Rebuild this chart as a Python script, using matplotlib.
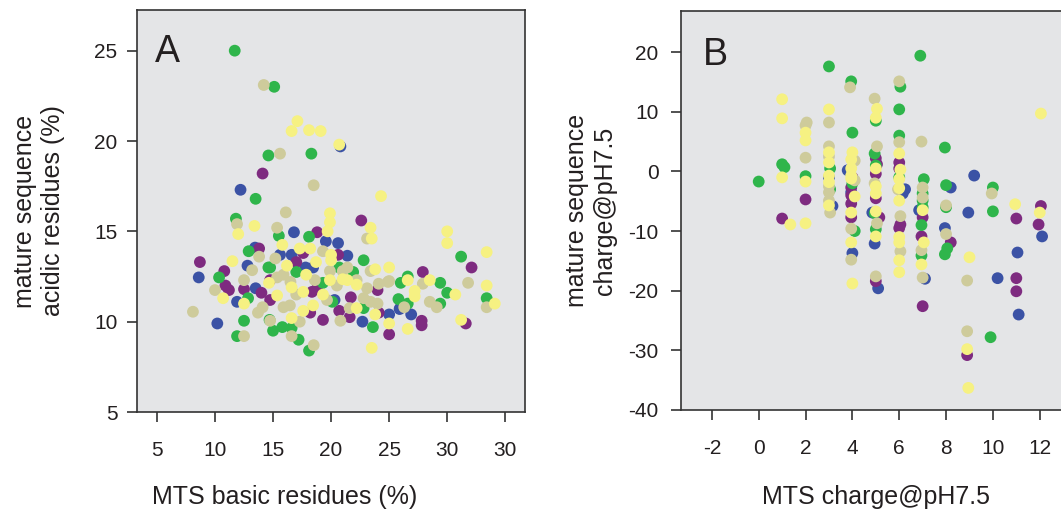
import matplotlib
matplotlib.use("Agg")
import matplotlib.pyplot as plt

plt.rcParams['font.family'] = ['Liberation Sans', 'DejaVu Sans']
plt.rcParams['axes.unicode_minus'] = False

# colour groups (same order in both panels)
group_colors = {
    'blue': '#3b52a5',
    'purple': '#7e2b80',
    'green': '#2fb54b',
    'khaki': '#cecb9b',
    'yellow': '#f6f182',
}

# Panel A: MTS basic residues (%) vs mature sequence acidic residues (%)
a_blue = [(20.8, 19.7), (12.2, 17.3), (26.9, 10.4), (25.9, 10.7), (25.0, 10.4), (22.7, 10.0),
          (10.2, 9.9), (8.6, 12.45), (11.9, 11.1), (12.8, 13.1), (13.45, 14.1), (13.5, 11.85),
          (15.6, 13.7), (16.8, 14.95), (19.55, 14.45), (20.6, 14.35), (16.6, 13.7), (21.4, 13.65),
          (17.8, 13.0), (18.45, 13.0), (20.3, 11.2), (25.95, 10.75)]
a_purple = [(14.1, 18.2), (22.6, 15.6), (32.1, 13.0), (27.9, 12.75), (31.6, 9.9), (27.8, 10.05),
            (27.8, 9.8), (24.0, 11.75), (25.0, 9.3), (21.6, 10.25), (20.7, 10.6), (19.3, 10.1),
            (18.2, 10.5), (8.7, 13.3), (10.8, 12.8), (10.9, 12.0), (11.2, 11.75), (12.5, 11.8),
            (13.8, 14.05), (14.0, 11.6), (18.8, 14.95), (17.6, 13.8), (17.0, 13.3), (20.6, 13.7),
            (21.7, 11.35), (18.35, 11.65), (18.8, 11.85), (14.75, 11.2), (14.75, 12.3), (24.1, 10.5)]
a_green = [(11.7, 25.0), (15.1, 23.0), (14.6, 19.2), (18.3, 19.3), (13.5, 16.8), (11.8, 15.7),
           (26.6, 12.5), (31.2, 13.6), (30.0, 11.6), (29.4, 12.15), (29.4, 11.0), (26.6, 11.0),
           (25.8, 11.25), (26.0, 12.15), (22.8, 13.4), (23.6, 9.7), (18.1, 8.4), (17.2, 9.0),
           (16.6, 9.65), (15.8, 9.7), (15.0, 9.5), (14.7, 10.1), (12.5, 10.05), (11.9, 9.2),
           (10.35, 12.45), (12.85, 11.3), (12.9, 13.9), (14.6, 13.0), (15.5, 14.75), (18.1, 14.7),
           (20.7, 13.0), (17.0, 12.75), (21.9, 12.75), (22.8, 10.75), (20.1, 11.1), (19.3, 12.15),
           (14.75, 13.0), (33.4, 11.3)]
a_khaki = [(14.2, 23.1), (15.6, 19.3), (18.5, 17.55), (16.1, 16.05), (11.9, 15.4), (23.1, 14.6),
           (31.8, 12.15), (27.9, 12.1), (28.5, 11.1), (29.1, 10.8), (26.3, 10.8), (25.0, 12.25),
           (24.1, 12.1), (20.8, 10.05), (18.5, 8.7), (16.6, 9.2), (17.3, 10.0), (12.5, 9.2),
           (8.1, 10.55), (10.0, 11.75), (12.5, 12.3), (13.2, 12.85), (13.8, 13.6), (13.7, 10.5),
           (14.1, 10.8), (15.2, 13.5), (15.35, 15.2), (19.3, 13.9), (19.9, 12.8), (21.0, 12.8),
           (21.4, 13.0), (22.2, 12.3), (23.1, 11.85), (22.8, 11.3), (23.4, 11.1), (24.0, 11.0),
           (21.6, 10.75), (19.65, 11.2), (18.6, 12.3), (16.45, 10.9), (15.9, 10.8), (15.35, 12.45),
           (15.9, 12.6), (23.4, 12.8), (24.9, 12.2), (33.4, 10.8), (14.75, 10.05), (17.0, 11.5),
           (20.5, 12.0), (16.5, 12.2)]
a_yellow = [(17.1, 21.1), (16.6, 20.55), (18.1, 20.6), (19.1, 20.55), (20.7, 19.8), (24.3, 16.95),
            (19.9, 16.0), (12.0, 14.85), (13.4, 15.3), (19.9, 15.5), (19.7, 15.0), (23.4, 15.2),
            (23.5, 14.6), (30.0, 15.0), (30.0, 14.35), (30.7, 11.5), (28.5, 12.3), (27.2, 11.7),
            (27.2, 11.4), (31.2, 10.1), (26.6, 9.6), (26.6, 12.3), (25.0, 13.0), (23.8, 12.9),
            (23.8, 10.4), (25.0, 9.9), (23.5, 8.55), (16.6, 10.2), (10.7, 11.3), (11.5, 13.35),
            (12.5, 11.0), (15.8, 14.25), (17.3, 14.05), (18.2, 14.05), (16.2, 13.1), (20.0, 13.7),
            (20.0, 13.4), (18.7, 13.3), (17.85, 12.6), (21.0, 12.35), (21.4, 12.3), (19.9, 12.3),
            (22.2, 12.05), (22.2, 10.75), (19.3, 11.5), (18.45, 10.9), (17.6, 10.6), (17.6, 11.65),
            (16.6, 11.9), (15.35, 11.45), (14.65, 12.15), (33.4, 13.85), (33.4, 12.0), (34.1, 11.0)]

# Panel B: MTS charge@pH7.5 vs mature sequence charge@pH7.5
b_blue = [(3.15, -5.8), (3.8, 0.2), (4.0, -13.7), (3.95, -3.5), (4.95, -12.1), (5.1, -19.6),
          (4.85, -6.9), (6.15, -3.7), (6.25, -3.0), (7.1, -18.0), (6.85, -6.5), (8.2, -2.7),
          (7.95, -9.5), (9.2, -0.7), (8.95, -6.9), (10.2, -17.9), (11.05, -13.6), (11.1, -24.0),
          (12.1, -10.9), (3.0, -1.0)]
b_purple = [(1.0, -7.9), (2.0, -4.7), (3.95, -2.7), (3.95, -4.0), (3.95, -5.4), (3.95, -7.7),
            (4.0, -1.0), (5.0, 2.2), (5.0, -0.4), (5.0, -4.5), (5.15, -7.7), (5.0, -18.4),
            (5.05, 1.2), (6.0, 1.5), (6.05, -8.9), (6.0, -9.5), (6.0, 0.5), (7.0, -7.7),
            (6.95, -10.9), (7.0, -22.6), (8.2, -11.9), (8.9, -30.8), (11.0, -7.9), (11.0, -17.9),
            (11.0, -20.1), (12.05, -5.8), (11.95, -8.9)]
b_green = [(0.0, -1.7), (1.0, 1.2), (1.1, 0.7), (2.0, -0.8), (3.0, 17.6), (3.05, 0.5),
           (3.05, -3.0), (3.95, 15.1), (4.0, 6.5), (4.1, -10.0), (4.0, -2.0), (5.0, 8.5),
           (4.95, 3.0), (5.0, -9.7), (4.95, -7.0), (5.0, 1.0), (6.05, 14.2), (6.0, 10.4),
           (6.0, 6.0), (6.0, -1.0), (6.9, 19.4), (7.05, -1.3), (7.0, -3.7), (7.0, -4.9),
           (6.95, -9.0), (6.95, -14.1), (7.0, -6.0), (7.95, 4.0), (8.0, -2.3), (8.0, -6.0),
           (8.05, -12.9), (7.95, -13.9), (10.0, -2.7), (10.0, -6.7), (9.9, -27.8)]
b_khaki = [(2.05, 8.2), (2.0, 7.7), (2.0, 2.3), (3.0, 8.2), (3.0, 4.2), (3.0, -3.5),
           (3.0, -4.9), (3.05, -6.9), (3.0, 2.5), (3.0, -2.5), (3.9, 14.1), (4.1, 1.8),
           (3.95, -9.6), (3.95, -14.8), (4.1, -1.5), (4.95, 12.2), (5.05, 4.2), (5.05, -8.7),
           (5.0, -17.6), (4.95, -2.0), (6.0, 15.1), (6.0, 4.9), (6.05, -7.5), (6.05, -13.4),
           (5.95, -3.0), (6.95, 5.0), (7.0, -2.7), (7.0, -4.4), (6.95, -13.2), (7.0, -17.8),
           (8.0, -5.7), (8.0, -10.5), (8.9, -18.3), (8.9, -26.8), (9.95, -3.7)]
b_yellow = [(1.0, 12.1), (1.0, 8.9), (1.0, -1.0), (1.35, -8.9), (2.0, 6.5), (2.0, 5.2),
            (2.0, -1.7), (2.0, -8.7), (3.0, 10.4), (3.0, 3.2), (3.0, 1.5), (3.0, -0.7),
            (3.0, -1.8), (3.0, -5.7), (4.0, 3.2), (3.95, 2.0), (3.95, 0.5), (3.95, -0.7),
            (3.95, -1.2), (4.1, -4.2), (3.95, -6.9), (3.95, -11.9), (4.0, -18.8), (5.05, 10.5),
            (5.0, 9.0), (5.0, 0.5), (5.0, -2.5), (5.0, -3.7), (5.0, -6.7), (5.0, -10.9),
            (6.0, 3.0), (6.05, 0.3), (6.0, -1.3), (6.0, -2.8), (6.0, -4.9), (6.0, -11.0),
            (6.0, -11.9), (6.0, -14.9), (6.0, -16.9), (7.0, -6.5), (7.05, -11.9), (6.95, -15.6),
            (9.0, -14.4), (8.9, -29.8), (8.95, -36.3), (10.95, -5.5), (12.05, 9.7), (12.0, -6.9)]

a_xticks = [5, 10, 15, 20, 25, 30, 35]
a_xticklabels = ['5', '10', '15', '20', '25', '30', '30']
a_yticks = [5, 10, 15, 20, 25]
b_xticks = [-2, 0, 2, 4, 6, 8, 10, 12]
b_yticks = [20, 10, 0, -10, -20, -30, -40]

panel_a = {'blue': a_blue, 'purple': a_purple, 'green': a_green, 'khaki': a_khaki, 'yellow': a_yellow}
panel_b = {'blue': b_blue, 'purple': b_purple, 'green': b_green, 'khaki': b_khaki, 'yellow': b_yellow}

BG = '#e4e5e7'
EDGE = '#333333'
TXT = '#231f20'


def style_axis(ax):
    ax.set_facecolor(BG)
    for sp in ax.spines.values():
        sp.set_color(EDGE)
        sp.set_linewidth(1.2)
    ax.tick_params(axis='both', direction='out', length=7, width=1.2, color=EDGE,
                   labelsize=15, labelcolor=TXT)
    ax.tick_params(axis='x', pad=14)
    ax.tick_params(axis='y', pad=7)


def draw_points(ax, groups):
    for name in ['blue', 'purple', 'green', 'khaki', 'yellow']:
        pts = groups[name]
        xs = [p[0] for p in pts]
        ys = [p[1] for p in pts]
        ax.scatter(xs, ys, s=72, color=group_colors[name], edgecolors='none', zorder=3)


fig = plt.figure(figsize=(10.61, 5.11), dpi=100)
ax1 = fig.add_axes([0.1291, 0.1937, 0.3657, 0.7867])
ax2 = fig.add_axes([0.6418, 0.1977, 0.3779, 0.7808])

# Panel A
style_axis(ax1)
draw_points(ax1, panel_a)
ax1.set_xlim(3.28, 36.7)
ax1.set_ylim(5, 27.25)
ax1.set_xticks(a_xticks)
ax1.set_xticklabels(a_xticklabels)
ax1.set_yticks(a_yticks)
ax1.set_xlabel('MTS basic residues (%)', fontsize=18, color=TXT)
ax1.set_ylabel('mature sequence\nacidic residues (%)', fontsize=18, color=TXT)
ax1.xaxis.set_label_coords(0.381, -0.182)
ax1.yaxis.set_label_coords(-0.186, 0.5)
ax1.text(0.045, 0.94, 'A', transform=ax1.transAxes, fontsize=27, color=TXT,
         ha='left', va='top')

# Panel B
style_axis(ax2)
ax2.tick_params(axis='y', pad=9)
draw_points(ax2, panel_b)
ax2.set_xlim(-3.32, 13.8)
ax2.set_ylim(-40, 26.9)
ax2.set_xticks(b_xticks)
ax2.set_yticks(b_yticks)
ax2.set_xlabel('MTS charge@pH7.5', fontsize=18, color=TXT)
ax2.set_ylabel('mature sequence\ncharge@pH7.5', fontsize=18, color=TXT)
ax2.xaxis.set_label_coords(0.486, -0.188)
ax2.yaxis.set_label_coords(-0.16, 0.5)
ax2.text(0.055, 0.935, 'B', transform=ax2.transAxes, fontsize=27, color=TXT,
         ha='left', va='top')

fig.savefig('out.png', dpi=100)
